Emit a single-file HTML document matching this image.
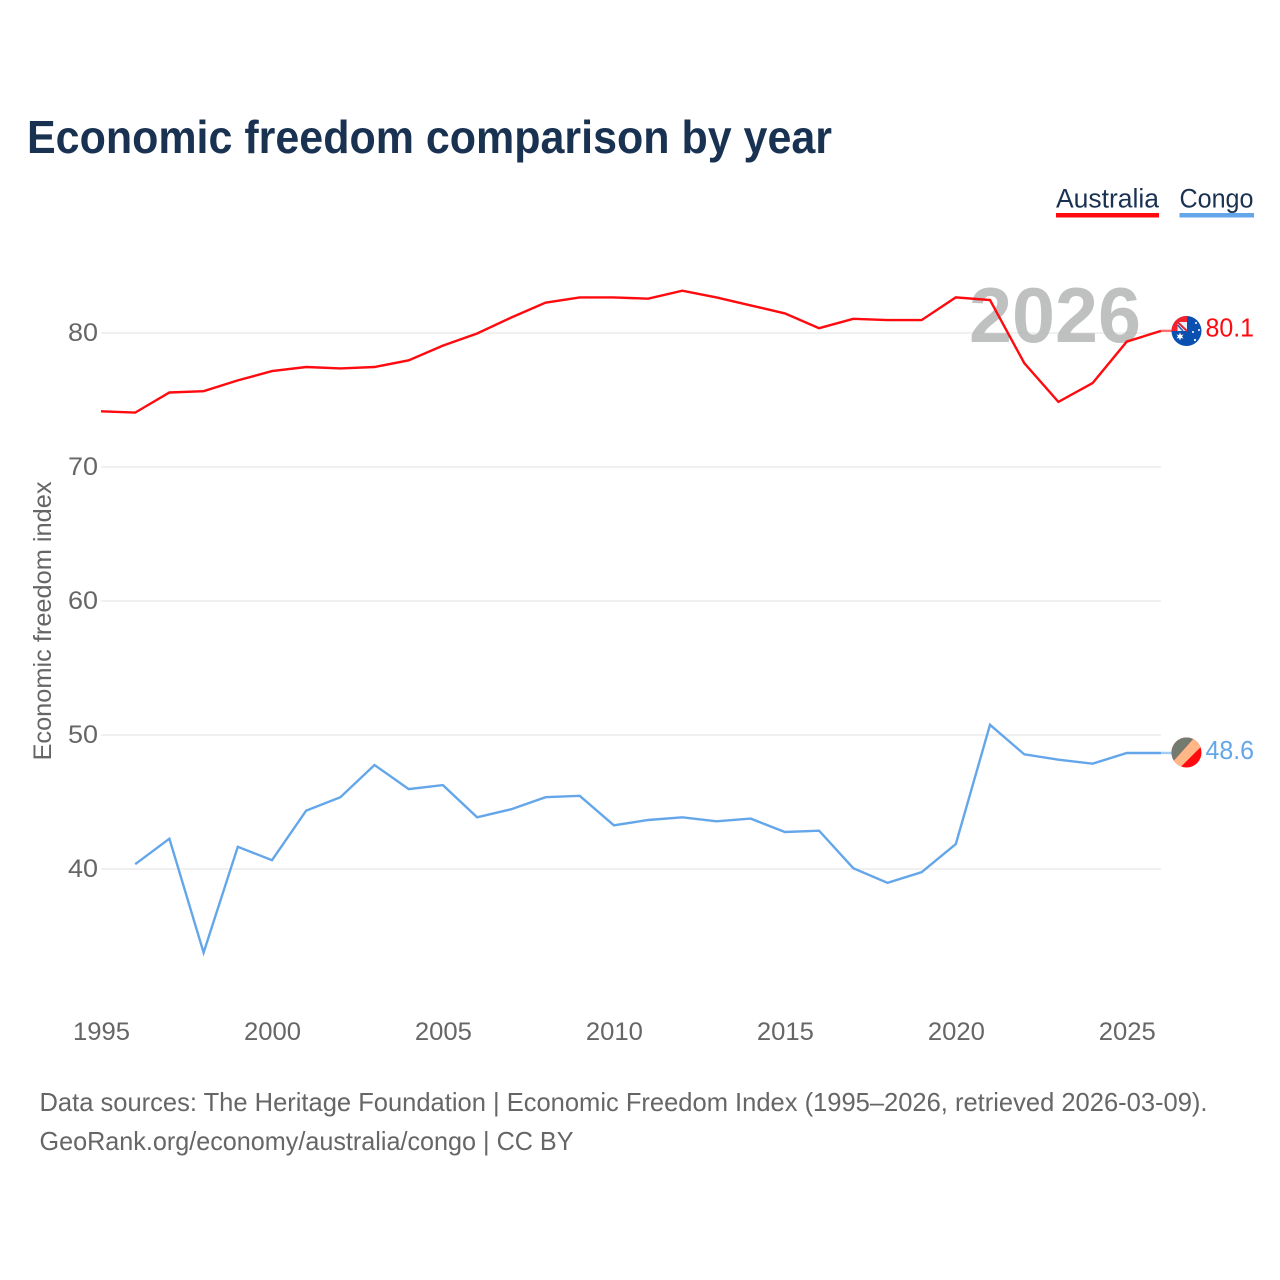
<!DOCTYPE html>
<html lang="en">
<head>
<meta charset="utf-8">
<title>Economic freedom comparison by year</title>
<style>
html,body{margin:0;padding:0;background:#fff;}
svg{display:block;}
text{font-family:"Liberation Sans",sans-serif;}
</style>
</head>
<body>
<svg id="chart" width="1280" height="1280" viewBox="0 0 1280 1280" xmlns="http://www.w3.org/2000/svg">
  <defs>
    <clipPath id="flag-au-clip"><circle cx="1186.5" cy="331" r="15"/></clipPath>
    <clipPath id="flag-cg-clip"><circle cx="1186.5" cy="752.5" r="15"/></clipPath>
  </defs>
  <rect width="1280" height="1280" fill="#ffffff"/>
  <text x="27" y="153" font-size="46" font-weight="700" fill="#1a3252" textLength="805" lengthAdjust="spacingAndGlyphs">Economic freedom comparison by year</text>

  <g>
    <text x="1056" y="207.5" font-size="27" fill="#1a3252" textLength="103" lengthAdjust="spacingAndGlyphs">Australia</text>
    <rect x="1056" y="213" width="103" height="4.5" fill="#ff0a0f"/>
  </g>
  <g>
    <text x="1179.5" y="207.5" font-size="27" fill="#1a3252" textLength="74" lengthAdjust="spacingAndGlyphs">Congo</text>
    <rect x="1179.5" y="213" width="74.5" height="4.5" fill="#64a6ea"/>
  </g>

  <g id="grid"></g>
  <g id="y-axis"></g>
  <g id="x-axis"></g>
  <text transform="translate(51 621) rotate(-90)" text-anchor="middle" font-size="25" fill="#666666" textLength="279" lengthAdjust="spacingAndGlyphs">Economic freedom index</text>

  <text id="year-label" x="969" y="342" font-size="78" font-weight="700" fill="#b4b6b6" fill-opacity="0.85" textLength="172" lengthAdjust="spacingAndGlyphs">2026</text>

  <g id="series"></g>

  <g clip-path="url(#flag-au-clip)">
    <rect x="1171" y="315" width="31" height="32" fill="#0a50b0"/>
    <rect x="1171" y="315" width="16" height="16" fill="#f5222d"/>
    <rect x="1177.5" y="322" width="9.5" height="9" fill="#e8eef8"/>
    <path d="M1177.5 322 L1187 331" stroke="#d8283a" stroke-width="2" fill="none"/>
    <path d="M1177.5 325 L1183 331" stroke="#2a5fb0" stroke-width="1.5" fill="none"/>
    <path d="M1180 332.5 L1181 335 L1183.5 334.5 L1182 336.5 L1183.5 338.5 L1181 338 L1180 340.5 L1179 338 L1176.5 338.5 L1178 336.5 L1176.5 334.5 L1179 335 Z" fill="#ffffff"/>
    <circle cx="1196" cy="323" r="1" fill="#ffffff"/>
    <circle cx="1199" cy="330" r="1" fill="#ffffff"/>
    <circle cx="1193" cy="332" r="1" fill="#ffffff"/>
    <circle cx="1195" cy="340" r="1.1" fill="#ffffff"/>
  </g>
  <g clip-path="url(#flag-cg-clip)">
    <rect x="1171" y="737" width="31" height="31" fill="#ff0a0f"/>
    <path d="M1170 730 H1198 V733.7 L1170 765 Z" fill="#737a70"/>
    <path d="M1198 733.7 L1210 737.7 L1175 772.7 L1170 765 Z" fill="#ffb788"/>
  </g>

  <text id="value-au" x="1205.5" y="336.5" font-size="26" fill="#ff0a0f" textLength="48.5" lengthAdjust="spacingAndGlyphs"></text>
  <text id="value-cg" x="1205.5" y="759" font-size="26" fill="#64a6ea" textLength="48.5" lengthAdjust="spacingAndGlyphs"></text>

  <text x="39.5" y="1111" font-size="26" fill="#666666" textLength="1168" lengthAdjust="spacingAndGlyphs">Data sources: The Heritage Foundation | Economic Freedom Index (1995–2026, retrieved 2026-03-09).</text>
  <text x="39.5" y="1150" font-size="26" fill="#666666" textLength="534" lengthAdjust="spacingAndGlyphs">GeoRank.org/economy/australia/congo | CC BY</text>
</svg>
<script>
const years = [1995,1996,1997,1998,1999,2000,2001,2002,2003,2004,2005,2006,2007,2008,2009,2010,2011,2012,2013,2014,2015,2016,2017,2018,2019,2020,2021,2022,2023,2024,2025,2026];
const australiaValues = [74.1,74.0,75.5,75.6,76.4,77.1,77.4,77.3,77.4,77.9,79.0,79.9,81.1,82.2,82.6,82.6,82.5,83.1,82.6,82.0,81.4,80.3,81.0,80.9,80.9,82.6,82.4,77.7,74.8,76.2,79.3,80.1];
const congoValues = [null,40.3,42.2,33.7,41.6,40.6,44.3,45.3,47.7,45.9,46.2,43.8,44.4,45.3,45.4,43.2,43.6,43.8,43.5,43.7,42.7,42.8,40.0,38.9,39.7,41.8,50.7,48.5,48.1,47.8,48.6,48.6];
const yTicks = [80,70,60,50,40];
const xTicks = [1995,2000,2005,2010,2015,2020,2025];

const SVG_NS = 'http://www.w3.org/2000/svg';
const x = function (year) { return 101 + (year - 1995) * (1060 / 31); };
const y = function (value) { return 869 - (value - 40) * 13.4; };
const lineY = function (value) { return y(value) - 0.8; };

function node(tag, parent) {
  const el = document.createElementNS(SVG_NS, tag);
  parent.appendChild(el);
  return el;
}

const grid = document.getElementById('grid');
const yAxis = document.getElementById('y-axis');
const xAxis = document.getElementById('x-axis');
const series = document.getElementById('series');

yTicks.forEach(function (tick) {
  const line = node('line', grid);
  
  
  line.setAttribute('x1', x(1995));
  line.setAttribute('x2', x(2026));
  line.setAttribute('y1', y(tick));
  line.setAttribute('y2', y(tick));
  line.setAttribute('stroke', '#f0f0f0');
  line.setAttribute('stroke-width', '2');

  const label = node('text', yAxis);
  
  
  label.setAttribute('x', 68);
  label.setAttribute('y', y(tick) + 8);
  label.setAttribute('font-size', '25');
  label.setAttribute('fill', '#666666');
  label.setAttribute('textLength', '30');
  label.setAttribute('lengthAdjust', 'spacingAndGlyphs');
  label.textContent = tick;
});

xTicks.forEach(function (tick) {
  const label = node('text', xAxis);
  
  
  label.setAttribute('x', x(tick) - 28);
  label.setAttribute('y', 1040);
  label.setAttribute('font-size', '25');
  label.setAttribute('fill', '#666666');
  label.setAttribute('textLength', '57');
  label.setAttribute('lengthAdjust', 'spacingAndGlyphs');
  label.textContent = tick;
});

function pathFor(values) {
  let d = '';
  values.forEach(function (value, i) {
    if (value === null) { return; }
    d += (d ? ' L' : 'M') + x(years[i]).toFixed(1) + ' ' + lineY(value).toFixed(1);
  });
  return d;
}

function lastValue(values) {
  return values[values.length - 1];
}

const connectorAu = node('line', series);


connectorAu.setAttribute('x1', x(2026));
connectorAu.setAttribute('x2', 1175);
connectorAu.setAttribute('y1', lineY(lastValue(australiaValues)));
connectorAu.setAttribute('y2', lineY(lastValue(australiaValues)));
connectorAu.setAttribute('stroke', '#ff0a0f');
connectorAu.setAttribute('stroke-opacity', '0.6');
connectorAu.setAttribute('stroke-width', '2.4');

const connectorCg = node('line', series);


connectorCg.setAttribute('x1', x(2026));
connectorCg.setAttribute('x2', 1175);
connectorCg.setAttribute('y1', lineY(lastValue(congoValues)));
connectorCg.setAttribute('y2', lineY(lastValue(congoValues)));
connectorCg.setAttribute('stroke', '#64a6ea');
connectorCg.setAttribute('stroke-opacity', '0.6');
connectorCg.setAttribute('stroke-width', '2.4');

const lineCongo = node('path', series);


lineCongo.setAttribute('d', pathFor(congoValues));
lineCongo.setAttribute('fill', 'none');
lineCongo.setAttribute('stroke', '#64a6ea');
lineCongo.setAttribute('stroke-width', '2.4');
lineCongo.setAttribute('stroke-linejoin', 'miter');

const lineAustralia = node('path', series);


lineAustralia.setAttribute('d', pathFor(australiaValues));
lineAustralia.setAttribute('fill', 'none');
lineAustralia.setAttribute('stroke', '#ff0a0f');
lineAustralia.setAttribute('stroke-width', '2.4');
lineAustralia.setAttribute('stroke-linejoin', 'miter');

document.getElementById('value-au').textContent = lastValue(australiaValues).toFixed(1);
document.getElementById('value-cg').textContent = lastValue(congoValues).toFixed(1);
</script>
</body>
</html>
